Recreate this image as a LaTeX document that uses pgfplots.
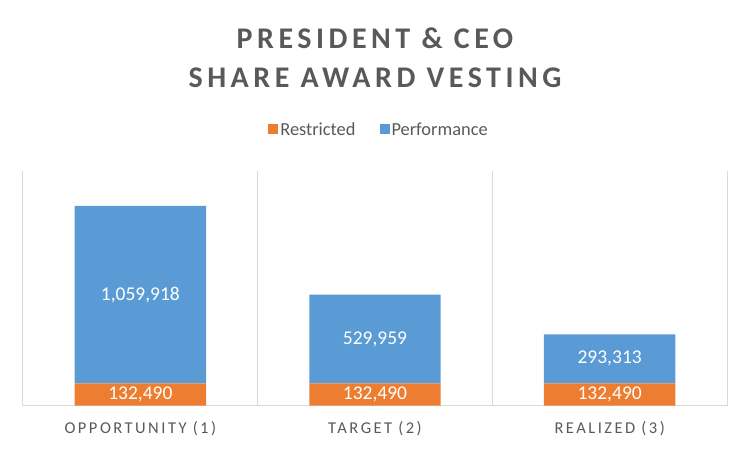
\documentclass[border=0pt]{standalone}
\usepackage{pgfplots}
\pgfplotsset{compat=1.18}
\usepackage{pgfplotstable}
\usepackage{fontspec}
\setmainfont{Carlito}
\newfontfamily\titlefont{Carlito}[LetterSpace=15]
\newfontfamily\catfont{Carlito}[LetterSpace=15]
\definecolor{cOrange}{HTML}{ED7D31}
\definecolor{cBlue}{HTML}{5B9BD5}
\definecolor{cText}{HTML}{595959}
\definecolor{cGrid}{HTML}{D9D9D9}
\pgfplotstableread{
x restricted performance
0 132490 1059918
1 132490 529959
2 132490 293313
}\datatable
\pgfplotstableread{
x y label
0 66245 {132,490}
1 66245 {132,490}
2 66245 {132,490}
0 662449 {1,059,918}
1 397469.5 {529,959}
2 279146.5 {293,313}
}\labeltable
\pgfplotsset{common/.style={
  at={(23pt,44.3pt)}, anchor=south west,
  width=704pt, height=234.7pt, scale only axis,
  xmin=-0.5, xmax=2.5, ymin=0, ymax=1400000}}
\begin{document}
\begin{tikzpicture}[x=1pt,y=1pt]
\path[use as bounding box] (0,0) rectangle (750,450);
\begin{axis}[common,
  ybar stacked, bar width=0.56,
  xtick={0,1,2}, xticklabels={OPPORTUNITY (1), TARGET (2), REALIZED (3)},
  minor xtick={-0.5,0.5,1.5,2.5}, xminorgrids=true,
  minor grid style={cGrid, line width=1pt},
  major tick length=0pt, minor tick length=0pt,
  axis x line*=bottom, axis y line=none,
  x axis line style={cGrid, line width=1pt, -},
  ytick=\empty,
  xticklabel style={font=\catfont\fontsize{16.5}{16.5}\selectfont, text=cText, yshift=-12pt},
  legend style={at={(0.5,1)}, anchor=center, xshift=4pt, yshift=41.5pt, draw=none, fill=none,
    legend columns=2, font=\fontsize{18.4}{18.4}\selectfont, text=cText,
    /tikz/every even column/.append style={column sep=22pt}},
  legend image code/.code={\fill[#1] (0pt,-5pt) rectangle (10pt,5pt);},
]
\addplot[fill=cOrange, draw=none] table[x=x, y=restricted] {\datatable};
\addlegendentry{Restricted}
\addplot[fill=cBlue, draw=none] table[x=x, y=performance] {\datatable};
\addlegendentry{Performance}
\end{axis}
\begin{axis}[common, hide axis]
\addplot[only marks, mark=none, nodes near coords, point meta=explicit symbolic,
  every node near coord/.append style={anchor=center, text=white, font=\fontsize{19.5}{19.5}\selectfont}]
  table[x=x, y=y, meta=label] {\labeltable};
\end{axis}
\node[font=\titlefont\bfseries\fontsize{30}{30}\selectfont, text=cText] at (375,412) {PRESIDENT \& CEO};
\node[font=\titlefont\bfseries\fontsize{30}{30}\selectfont, text=cText] at (375,372) {SHARE AWARD VESTING};
\end{tikzpicture}
\end{document}
